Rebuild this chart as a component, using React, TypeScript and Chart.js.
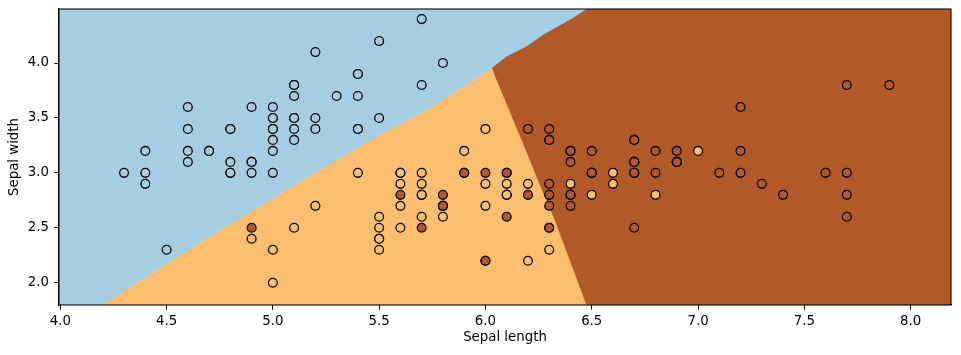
import React, { useEffect, useRef } from 'react';
import { Chart, registerables } from 'chart.js';

Chart.register(...registerables);

// Axis ranges and tick labels
const X_MIN = 3.994;
const X_MAX = 8.19;
const Y_MIN = 1.797;
const Y_MAX = 4.492;
const xTicks = [4.0, 4.5, 5.0, 5.5, 6.0, 6.5, 7.0, 7.5, 8.0];
const yTicks = [2.0, 2.5, 3.0, 3.5, 4.0];
const xTitle = 'Sepal length';
const yTitle = 'Sepal width';

// Class colours (Paired colormap)
const colorSetosa = '#a6cee3';
const colorVersicolor = '#fdbf6f';
const colorVirginica = '#b15928';

// Iris data: sepal length (x) and sepal width (y)
const setosaX = [5.1, 4.9, 4.7, 4.6, 5.0, 5.4, 4.6, 5.0, 4.4, 4.9, 5.4, 4.8, 4.8, 4.3, 5.8, 5.7, 5.4, 5.1, 5.7, 5.1, 5.4, 5.1, 4.6, 5.1, 4.8, 5.0, 5.0, 5.2, 5.2, 4.7, 4.8, 5.4, 5.2, 5.5, 4.9, 5.0, 5.5, 4.9, 4.4, 5.1, 5.0, 4.5, 4.4, 5.0, 5.1, 4.8, 5.1, 4.6, 5.3, 5.0];
const setosaY = [3.5, 3.0, 3.2, 3.1, 3.6, 3.9, 3.4, 3.4, 2.9, 3.1, 3.7, 3.4, 3.0, 3.0, 4.0, 4.4, 3.9, 3.5, 3.8, 3.8, 3.4, 3.7, 3.6, 3.3, 3.4, 3.0, 3.4, 3.5, 3.4, 3.2, 3.1, 3.4, 4.1, 4.2, 3.1, 3.2, 3.5, 3.6, 3.0, 3.4, 3.5, 2.3, 3.2, 3.5, 3.8, 3.0, 3.8, 3.2, 3.7, 3.3];
const versicolorX = [7.0, 6.4, 6.9, 5.5, 6.5, 5.7, 6.3, 4.9, 6.6, 5.2, 5.0, 5.9, 6.0, 6.1, 5.6, 6.7, 5.6, 5.8, 6.2, 5.6, 5.9, 6.1, 6.3, 6.1, 6.4, 6.6, 6.8, 6.7, 6.0, 5.7, 5.5, 5.5, 5.8, 6.0, 5.4, 6.0, 6.7, 6.3, 5.6, 5.5, 5.5, 6.1, 5.8, 5.0, 5.6, 5.7, 5.7, 6.2, 5.1, 5.7];
const versicolorY = [3.2, 3.2, 3.1, 2.3, 2.8, 2.8, 3.3, 2.4, 2.9, 2.7, 2.0, 3.0, 2.2, 2.9, 2.9, 3.1, 3.0, 2.7, 2.2, 2.5, 3.2, 2.8, 2.5, 2.8, 2.9, 3.0, 2.8, 3.0, 2.9, 2.6, 2.4, 2.4, 2.7, 2.7, 3.0, 3.4, 3.1, 2.3, 3.0, 2.5, 2.6, 3.0, 2.6, 2.3, 2.7, 3.0, 2.9, 2.9, 2.5, 2.8];
const virginicaX = [6.3, 5.8, 7.1, 6.3, 6.5, 7.6, 4.9, 7.3, 6.7, 7.2, 6.5, 6.4, 6.8, 5.7, 5.8, 6.4, 6.5, 7.7, 7.7, 6.0, 6.9, 5.6, 7.7, 6.3, 6.7, 7.2, 6.2, 6.1, 6.4, 7.2, 7.4, 7.9, 6.4, 6.3, 6.1, 7.7, 6.3, 6.4, 6.0, 6.9, 6.7, 6.9, 5.8, 6.8, 6.7, 6.7, 6.3, 6.5, 6.2, 5.9];
const virginicaY = [3.3, 2.7, 3.0, 2.9, 3.0, 3.0, 2.5, 2.9, 2.5, 3.6, 3.2, 2.7, 3.0, 2.5, 2.8, 3.2, 3.0, 3.8, 2.6, 2.2, 3.2, 2.8, 2.8, 2.7, 3.3, 3.2, 2.8, 3.0, 2.8, 3.0, 2.8, 3.8, 2.8, 2.8, 2.6, 3.0, 3.4, 3.1, 3.0, 3.1, 3.1, 3.1, 2.7, 3.2, 3.3, 3.0, 2.5, 3.0, 3.4, 3.0];

// Decision boundaries (x, y)
const blueOrangeBoundaryX = [4.195, 4.477, 4.727, 4.986, 5.299, 5.488, 5.723, 5.848, 6.03];
const blueOrangeBoundaryY = [1.797, 2.146, 2.45, 2.754, 3.119, 3.331, 3.574, 3.727, 3.954];
const blueBrownBoundaryX = [6.03, 6.099, 6.193, 6.271, 6.412, 6.475];
const blueBrownBoundaryY = [3.954, 4.06, 4.151, 4.258, 4.41, 4.492];
const orangeBrownBoundaryX = [6.03, 6.052, 6.13, 6.208, 6.246, 6.326, 6.396, 6.475];
const orangeBrownBoundaryY = [3.954, 3.848, 3.483, 3.119, 2.936, 2.572, 2.207, 1.797];

const zip = (xs: number[], ys: number[]) => xs.map((x, i) => ({ x, y: ys[i] }));

const FONT_SIZE = 13.33;

const framePlugin = {
  id: 'frame',
  afterDraw(chart: any) {
    const { ctx, chartArea } = chart;
    ctx.save();
    ctx.strokeStyle = '#000';
    ctx.lineWidth = 1.07;
    ctx.strokeRect(chartArea.left, chartArea.top, chartArea.right - chartArea.left, chartArea.bottom - chartArea.top);
    ctx.restore();
  },
};

export default function App() {
  const canvasRef = useRef<HTMLCanvasElement | null>(null);

  useEffect(() => {
    document.body.style.margin = '0';
    const canvas = canvasRef.current;
    if (!canvas) return;

    const blueOrange = zip(blueOrangeBoundaryX, blueOrangeBoundaryY);
    const blueBrown = zip(blueBrownBoundaryX, blueBrownBoundaryY);
    const orangeBrown = zip(orangeBrownBoundaryX, orangeBrownBoundaryY);

    const regionOrange = [
      { x: X_MIN, y: Y_MIN },
      { x: X_MAX, y: Y_MIN },
      { x: X_MAX, y: Y_MAX },
      { x: X_MIN, y: Y_MAX },
    ];
    const regionBlue = [
      { x: X_MIN, y: Y_MIN },
      ...blueOrange,
      ...blueBrown.slice(1),
      { x: X_MIN, y: Y_MAX },
    ];
    const regionBrown = [
      { x: X_MAX, y: Y_MAX },
      ...blueBrown.slice().reverse(),
      ...orangeBrown.slice(1),
      { x: X_MAX, y: Y_MIN },
    ];

    const region = (data: any[], color: string, order: number) => ({
      data,
      fill: 'shape',
      backgroundColor: color,
      borderColor: color,
      borderWidth: 0,
      pointRadius: 0,
      showLine: true,
      tension: 0,
      order,
    });

    const points = (xs: number[], ys: number[], color: string, order: number) => ({
      data: zip(xs, ys),
      showLine: false,
      fill: false,
      pointRadius: 4.4,
      pointBackgroundColor: color,
      pointBorderColor: '#000',
      pointBorderWidth: 1.3,
      order,
    });

    const chart = new Chart(canvas, {
      type: 'line',
      data: {
        datasets: [
          points(virginicaX, virginicaY, colorVirginica, 1),
          points(versicolorX, versicolorY, colorVersicolor, 2),
          points(setosaX, setosaY, colorSetosa, 3),
          region(regionBrown, colorVirginica, 10),
          region(regionBlue, colorSetosa, 11),
          region(regionOrange, colorVersicolor, 12),
        ] as any,
      },
      options: {
        animation: false,
        responsive: false,
        events: [],
        layout: { autoPadding: false, padding: { top: 9, right: 10, left: 0, bottom: 0 } },
        plugins: {
          legend: { display: false },
          tooltip: { enabled: false },
        },
        font: { family: 'DejaVu Sans', size: FONT_SIZE },
        scales: {
          x: {
            type: 'linear',
            min: X_MIN,
            max: X_MAX,
            afterBuildTicks: (axis: any) => {
              axis.ticks = xTicks.map((v) => ({ value: v }));
            },
            afterFit: (axis: any) => {
              axis.height = 50;
              axis.paddingLeft = 0;
              axis.paddingRight = 0;
            },
            ticks: {
              color: '#000',
              font: { family: 'DejaVu Sans', size: FONT_SIZE },
              padding: 3.5,
              maxRotation: 0,
              autoSkip: false,
              callback: (v: any) => Number(v).toFixed(1),
            },
            grid: {
              display: true,
              drawOnChartArea: false,
              drawTicks: true,
              tickLength: 4.67,
              tickColor: '#000',
              tickWidth: 1,
            },
            border: { display: true, color: '#000', width: 1.07 },
            title: {
              display: true,
              text: xTitle,
              color: '#000',
              font: { family: 'DejaVu Sans', size: FONT_SIZE },
              padding: { top: 0, bottom: 9 },
            },
          },
          y: {
            type: 'linear',
            min: Y_MIN,
            max: Y_MAX,
            afterBuildTicks: (axis: any) => {
              axis.ticks = yTicks.map((v) => ({ value: v }));
            },
            afterFit: (axis: any) => {
              axis.width = 59;
              axis.paddingTop = 0;
              axis.paddingBottom = 0;
            },
            ticks: {
              color: '#000',
              font: { family: 'DejaVu Sans', size: FONT_SIZE },
              padding: 5.3,
              autoSkip: false,
              callback: (v: any) => Number(v).toFixed(1),
            },
            grid: {
              display: true,
              drawOnChartArea: false,
              drawTicks: true,
              tickLength: 4.67,
              tickColor: '#000',
              tickWidth: 1,
            },
            border: { display: true, color: '#000', width: 1.07 },
            title: {
              display: true,
              text: yTitle,
              color: '#000',
              font: { family: 'DejaVu Sans', size: FONT_SIZE },
              padding: { top: 7, bottom: 0 },
            },
          },
        },
      } as any,
      plugins: [framePlugin],
    });

    return () => chart.destroy();
  }, []);

  return (
    <div style={{ width: 961, height: 355 }}>
      <canvas ref={canvasRef} width={961} height={355} style={{ display: 'block' }} />
    </div>
  );
}
